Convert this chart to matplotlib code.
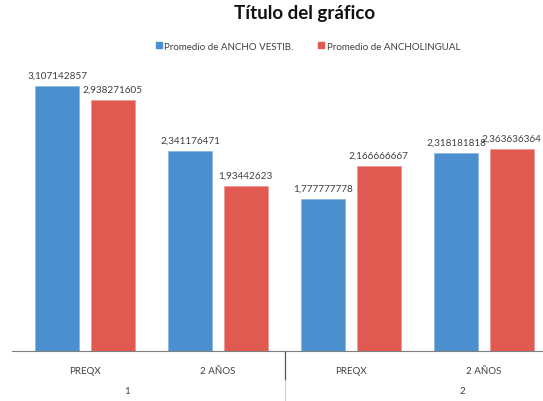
import numpy as np
import matplotlib
matplotlib.use("Agg")
import matplotlib.pyplot as plt
from matplotlib.patches import Patch

plt.rcParams['font.family'] = ['Lato', 'DejaVu Sans']

categories = ["PREQX", "2 AÑOS", "PREQX", "2 AÑOS"]
groups = ["1", "2"]
series_names = ["Promedio de ANCHO VESTIB.", "Promedio de ANCHOLINGUAL"]
ancho_vestib = [3.107142857, 2.341176471, 1.777777778, 2.318181818]
ancho_lingual = [2.938271605, 1.93442623, 2.166666667, 2.363636364]
labels_vestib = ["3,107142857", "2,341176471", "1,777777778", "2,318181818"]
labels_lingual = ["2,938271605", "1,93442623", "2,166666667", "2,363636364"]

blue = "#4B8FCE"
red = "#E05A51"
txt = "#404040"

fig = plt.figure(figsize=(5.43, 4.02), dpi=100)
ax = fig.add_axes([12 / 543, 50 / 402, 536 / 543, 299 / 402])

x = np.arange(len(categories))
w = 0.33
gap = 0.085
b1 = ax.bar(x - (w + gap) / 2, ancho_vestib, w, color=blue, edgecolor="#8DB8E3", linewidth=0.6)
b2 = ax.bar(x + (w + gap) / 2, ancho_lingual, w, color=red, edgecolor="#EE9A94", linewidth=0.6)

for bars, labs in [(b1, labels_vestib), (b2, labels_lingual)]:
    for rect, lab in zip(bars, labs):
        ax.text(rect.get_x() + rect.get_width() / 2, rect.get_height() + 0.07, lab,
                ha="center", va="bottom", fontsize=7.2, color=txt)

ax.set_xlim(-0.549, 3.481)
ax.set_ylim(0, 3.5)
for s in ["top", "right", "left"]:
    ax.spines[s].set_visible(False)
ax.spines["bottom"].set_color("#7f7f7f")
ax.spines["bottom"].set_linewidth(0.8)
ax.set_yticks([])
ax.set_xticks(x)
ax.set_xticklabels(categories, fontsize=7, color=txt)
ax.tick_params(axis="x", length=0, pad=11)

# group separator below the axis
ax.plot([1.5, 1.5], [0, -0.34], color="#555555", lw=0.9, clip_on=False)
ax.plot([1.5, 1.5], [-0.34, -0.6], color="#cccccc", lw=0.8, clip_on=False)

# group labels
fig.text(127 / 543, 1 - 392 / 402, groups[0], ha="center", va="center", fontsize=7, color=txt)
fig.text(462 / 543, 1 - 392 / 402, groups[1], ha="center", va="center", fontsize=7, color=txt)

fig.text(304.5 / 543, 1 - 14 / 402, "Título del gráfico", ha="center", va="center",
         fontsize=13.5, fontweight="bold", color="#111111")

handles = [Patch(color=blue), Patch(color=red)]
fig.legend(handles, series_names, loc="center", bbox_to_anchor=(308 / 543, 1 - 47 / 402),
           ncol=2, frameon=False, fontsize=7, handlelength=0.6, handleheight=0.6,
           handletextpad=0.3, columnspacing=2.5, labelcolor=txt)

fig.savefig("out.png", dpi=100)
